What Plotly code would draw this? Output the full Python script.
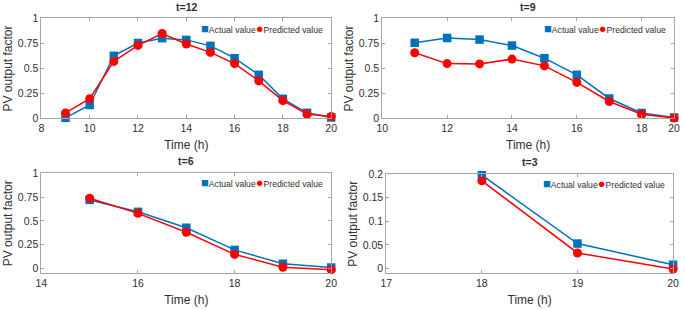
import plotly.graph_objects as go

# ---------------- data ----------------
series_names = ["Actual value", "Predicted value"]
panel_titles = ["t=12", "t=9", "t=6", "t=3"]

hours_t12 = [9, 10, 11, 12, 13, 14, 15, 16, 17, 18, 19, 20]
actual_t12 = [0.006, 0.135, 0.627, 0.755, 0.803, 0.786, 0.726, 0.603, 0.437, 0.197, 0.057, 0.010]
pred_t12 = [0.055, 0.198, 0.571, 0.731, 0.850, 0.745, 0.661, 0.549, 0.376, 0.178, 0.045, 0.020]

hours_t9 = [12, 13, 14, 15, 16, 17, 18, 19, 20]
actual_t9 = [0.757, 0.805, 0.789, 0.729, 0.603, 0.437, 0.200, 0.055, 0.010]
pred_t9 = [0.657, 0.549, 0.546, 0.594, 0.526, 0.361, 0.170, 0.043, 0.005]

hours_t6 = [15, 16, 17, 18, 19, 20]
actual_t6 = [0.720, 0.595, 0.428, 0.195, 0.050, 0.010]
pred_t6 = [0.737, 0.579, 0.380, 0.148, 0.013, -0.013]

hours_t3 = [18, 19, 20]
actual_t3 = [0.198, 0.053, 0.008]
pred_t3 = [0.186, 0.033, -0.001]

# tick labels as printed on each panel
xtick_vals = [[8, 10, 12, 14, 16, 18, 20],
              [11, 13, 15, 17, 19, 20],
              [14, 16, 18, 20],
              [17, 18, 19, 20]]
xtick_text = [["8", "10", "12", "14", "16", "18", "20"],
              ["10", "12", "14", "16", "18", "20"],
              ["14", "16", "18", "20"],
              ["17", "18", "19", "20"]]
ytick_vals = [[0, 0.25, 0.5, 0.75, 1]] * 3 + [[0, 0.05, 0.1, 0.15, 0.2]]
ytick_text = [["0", "0.25", "0.5", "0.75", "1"]] * 3 + [["0", "0.05", "0.1", "0.15", "0.2"]]
x_ranges = [[8, 20], [11, 20], [14, 20], [17, 20]]
y_ranges = [[0, 1], [0, 1], [-0.05, 1], [-0.01, 0.2]]

# ---------------- styling / layout ----------------
W, H = 685, 310
BLUE = "#0072BD"
RED = "#FF0000"
FONT = "Liberation Sans, Arial, sans-serif"
AXC = "#a6a6a6"
TXT = "#303030"

# panel boxes in pixels: left, right, top, bottom
boxes = [(36, 331, 13, 117), (383, 680, 13, 117), (36, 331, 174, 278), (387, 679, 175, 278)]

data = [(hours_t12, actual_t12, pred_t12), (hours_t9, actual_t9, pred_t9),
        (hours_t6, actual_t6, pred_t6), (hours_t3, actual_t3, pred_t3)]

fig = go.Figure()
annotations = []
for i, ((hx, act, pre), (l, r, t, b)) in enumerate(zip(data, boxes)):
    sfx = "" if i == 0 else str(i + 1)
    xa, ya = "x" + sfx, "y" + sfx
    fig.add_trace(go.Scatter(x=hx, y=act, mode="lines+markers", name=series_names[0],
                             line=dict(color=BLUE, width=1.5),
                             marker=dict(symbol="square", size=8.5, color=BLUE),
                             xaxis=xa, yaxis=ya, showlegend=False, cliponaxis=False))
    fig.add_trace(go.Scatter(x=hx, y=pre, mode="lines+markers", name=series_names[1],
                             line=dict(color=RED, width=1.5),
                             marker=dict(symbol="circle", size=9, color=RED),
                             xaxis=xa, yaxis=ya, showlegend=False, cliponaxis=False))
    dom_x = [l / W, r / W]
    dom_y = [1 - b / H, 1 - t / H]
    common = dict(showgrid=False, zeroline=False, showline=True, linecolor=AXC, linewidth=1,
                  mirror="ticks", ticks="inside", ticklen=3, tickcolor=AXC,
                  tickfont=dict(family=FONT, size=10.5, color=TXT))
    fig.update_layout(**{
        "xaxis" + sfx: dict(domain=dom_x, range=x_ranges[i], anchor=ya,
                            tickvals=xtick_vals[i], ticktext=xtick_text[i],
                            title=dict(text="Time (h)", font=dict(family=FONT, size=12, color=TXT),
                                       standoff=7), **common),
        "yaxis" + sfx: dict(domain=dom_y, range=y_ranges[i], anchor=xa,
                            tickvals=ytick_vals[i], ticktext=ytick_text[i],
                            title=dict(text="PV output factor", font=dict(family=FONT, size=12, color=TXT),
                                       standoff=2), **common),
    })
    # panel title
    annotations.append(dict(text="<b>" + panel_titles[i] + "</b>", x=(l + r) / 2 / W, y=1 - (t - 4) / H,
                            xref="paper", yref="paper", xanchor="center", yanchor="bottom",
                            showarrow=False, font=dict(family=FONT, size=10.5, color=TXT)))
    # compact legend
    leg = ("<span style='color:%s;font-size:13px'>■</span>%s"
           "<span style='color:%s;font-size:13px'>●</span>%s") % (BLUE, series_names[0], RED, series_names[1])
    annotations.append(dict(text=leg, x=(r - 6) / W, y=1 - (t + 10) / H,
                            xref="paper", yref="paper", xanchor="right", yanchor="middle",
                            showarrow=False, font=dict(family=FONT, size=8.6, color=TXT)))

fig.update_layout(width=W, height=H, margin=dict(l=0, r=0, t=0, b=0),
                  paper_bgcolor="white", plot_bgcolor="white",
                  annotations=annotations, showlegend=False)

fig.write_html("out.html", config={"displayModeBar": False},
               post_script="document.body.style.margin='0';document.body.style.overflow='hidden';")
